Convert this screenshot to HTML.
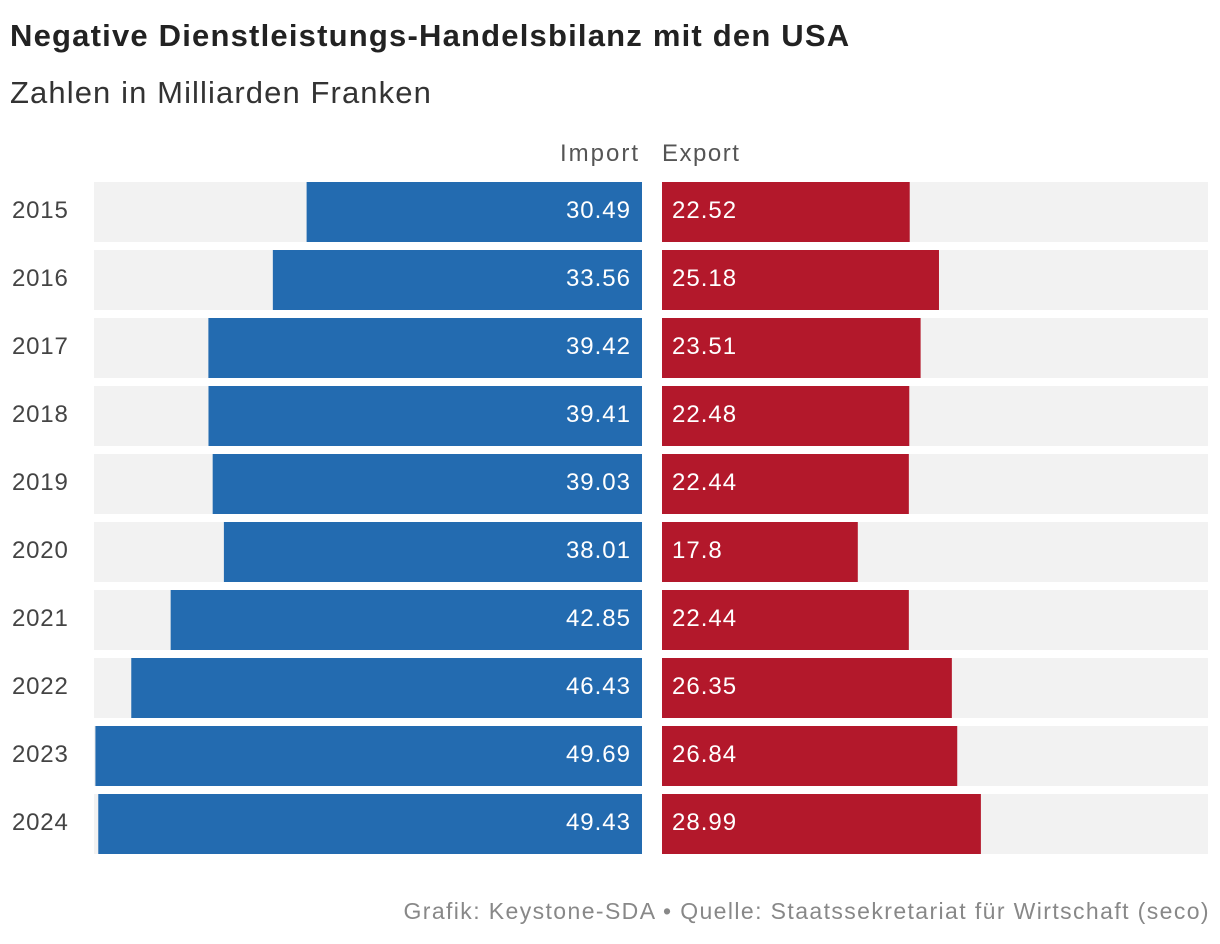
<!DOCTYPE html>
<html><head><meta charset="utf-8"><style>
body{margin:0;background:#fff;font-family:"Liberation Sans","DejaVu Sans",sans-serif;width:1220px;height:944px;overflow:hidden;position:relative}
.t{position:absolute;white-space:nowrap}
</style></head><body>
<div class="t" style="left:10px;top:18px;font-size:31px;font-weight:bold;color:#222;letter-spacing:1.2px">Negative Dienstleistungs-Handelsbilanz mit den USA</div>
<div class="t" style="left:10px;top:75px;font-size:31px;color:#333;letter-spacing:1.1px">Zahlen in Milliarden Franken</div>
<div class="t" style="right:580px;top:140px;font-size:24px;color:#555;letter-spacing:2px">Import</div>
<div class="t" style="left:662px;top:140px;font-size:24px;color:#555;letter-spacing:1.5px">Export</div>
<svg id="c" width="1220" height="944" style="position:absolute;left:0;top:0"></svg>
<div class="t" style="right:10px;top:898px;font-size:23px;color:#888;letter-spacing:1.4px">Grafik: Keystone-SDA • Quelle: Staatssekretariat für Wirtschaft (seco)</div>
<script>
const years=["2015","2016","2017","2018","2019","2020","2021","2022","2023","2024"];
const imports=[30.49,33.56,39.42,39.41,39.03,38.01,42.85,46.43,49.69,49.43];
const exports_=[22.52,25.18,23.51,22.48,22.44,17.8,22.44,26.35,26.84,28.99];
const NS="http://www.w3.org/2000/svg";
const svg=document.getElementById('c');
const scale=v=>v*11.0;
const rowY=i=>182+i*68;
const H=60;
function mk(tag,attrs){const e=document.createElementNS(NS,tag);for(const k in attrs)e.setAttribute(k,attrs[k]);svg.appendChild(e);return e;}
years.forEach((y,i)=>{
  const top=rowY(i);
  const bl=mk('rect',{x:94,y:top,width:548,height:H,fill:'#f2f2f2'});
  
  
  const br=mk('rect',{x:662,y:top,width:546,height:H,fill:'#f2f2f2'});
  
  
  const w=scale(imports[i]);
  const ib=mk('rect',{x:642-w,y:top,width:w,height:H,fill:'#236bb0'});
  
  
  const ew=scale(exports_[i]);
  const eb=mk('rect',{x:662,y:top,width:ew,height:H,fill:'#b3182b'});
  
  
  const yl=mk('text',{x:12,y:top+36,'font-size':24,fill:'#444','letter-spacing':'0.8'});yl.textContent=y;
  
  
  const il=mk('text',{x:631,y:top+36,'font-size':24,fill:'#fff','text-anchor':'end','letter-spacing':'1'});il.textContent=imports[i];
  
  
  const el=mk('text',{x:672,y:top+36,'font-size':24,fill:'#fff','letter-spacing':'1'});el.textContent=exports_[i];
  
  
});
</script>
</body></html>
